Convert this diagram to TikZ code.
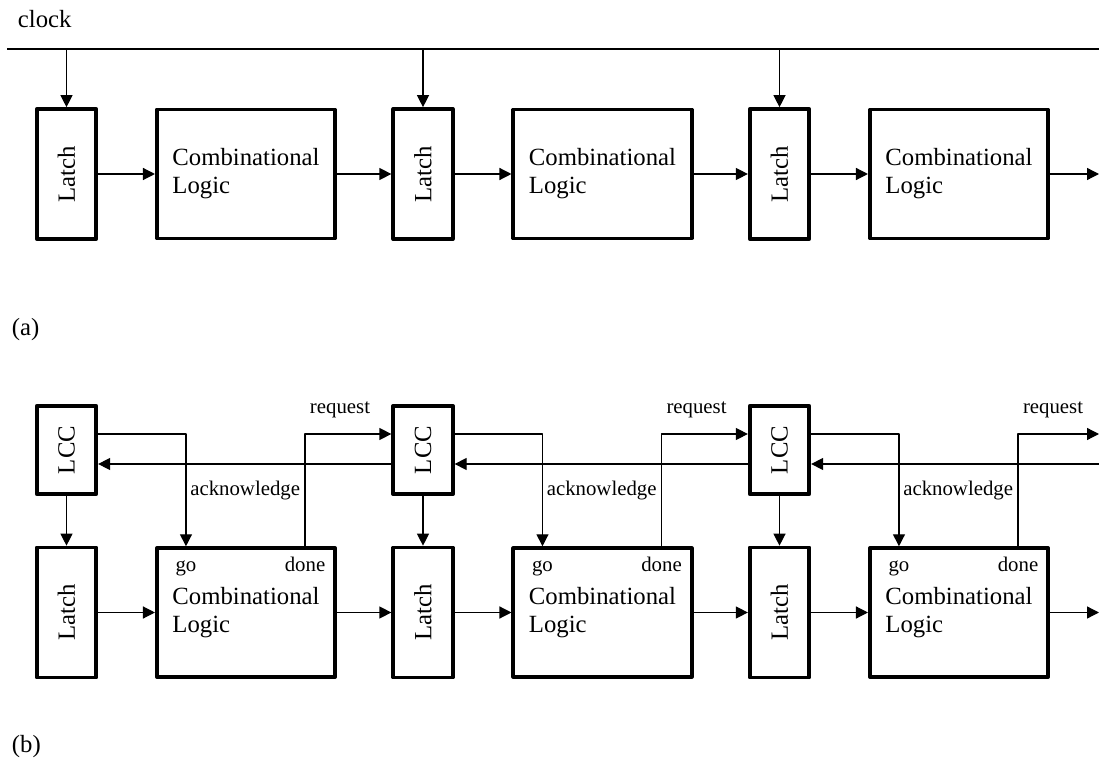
\documentclass[tikz,border=0pt]{standalone}
\usepackage{fontspec}
\setmainfont{Liberation Serif}
\usetikzlibrary{arrows.meta}
\newcommand\bigfont{\fontsize{17.6}{20}\selectfont}
\newcommand\smallfont{\fontsize{14.8}{17}\selectfont}
\tikzset{
  blk/.style={draw, line width=2.6pt, inner sep=0pt},
  latchbox/.style={blk, minimum width=1.49cm, minimum height=3.25cm},
  lccbox/.style={blk, minimum width=1.49cm, minimum height=2.21cm},
  logicbox/.style={blk, minimum width=4.46cm, minimum height=3.22cm, align=left},
  wire/.style={line width=0.9pt},
  sig/.style={wire, -{Triangle[length=0.3cm,width=0.3cm]}},
  small/.style={font=\smallfont},
}
\begin{document}
\begin{tikzpicture}[font=\bigfont, line join=round]
\useasboundingbox (0,0) rectangle (27.475,18.925);
% (a) clocked pipeline
\coordinate (clkL) at (0.175,17.7);
\coordinate (clkR) at (27.475,17.7);
\coordinate (latA3) at (27.475,14.575);
\node[anchor=base west] (clk) at (0.325,18.225) {clock};
\draw[wire] (clkL) -- (clkR);
\foreach \k in {0,1,2} {
  \node[latchbox] (latA\k) at (1.6625+\k*8.9125,14.575) {\rotatebox{90}{Latch}};
  \node[logicbox] (logA\k) at (6.15+\k*8.9125,14.575) {Combinational\\Logic};
  \draw[sig] (latA\k.north |- clkL) -- (latA\k.north);
  \draw[sig] (latA\k) -- (logA\k);
}
\foreach \i/\j in {0/1,1/2,2/3}
  \draw[sig] (logA\i) -- (latA\j);
\node[anchor=west] (capA) at (0.175,10.675) {(a)};
% (b) self-timed pipeline
\coordinate (reqY) at (0,8.075);
\coordinate (ackY) at (0,7.325);
\coordinate (lcc3) at (27.475,7.675);
\coordinate (latB3) at (27.475,3.6125);
\foreach \k in {0,1,2} {
  \node[lccbox] (lcc\k) at (1.6625+\k*8.9125,7.675) {\rotatebox{90}{LCC}};
  \node[latchbox] (latB\k) at (1.6625+\k*8.9125,3.6125) {\rotatebox{90}{Latch}};
  \node[logicbox] (logB\k) at (6.15+\k*8.9125,3.6125) {Combinational\\Logic};
  \coordinate (go\k) at ([xshift=0.775cm]logB\k.north west);
  \coordinate (done\k) at ([xshift=-0.8cm]logB\k.north east);
  \draw[sig] (lcc\k) -- (latB\k);
  \draw[sig] (latB\k) -- (logB\k);
  \draw[sig] (lcc\k.east |- reqY) -| (go\k);
  \node[small, anchor=base] (goT\k) at ([yshift=-0.625cm]go\k) {go};
  \node[small, anchor=base] (doneT\k) at ([yshift=-0.625cm]done\k) {done};
}
\foreach \i/\j in {0/1,1/2,2/3} {
  \draw[sig] (logB\i) -- (latB\j);
  \draw[sig] (done\i) |- (lcc\j.west |- reqY);
  \draw[sig] (lcc\j.west |- ackY) -- (lcc\i.east |- ackY);
  \path (done\i |- reqY) ++(0,0.525) node[small, anchor=base west] (req\i) {request};
  \path (done\i |- ackY) ++(0,-0.775) node[small, anchor=base east] (ack\i) {acknowledge};
}
\node[anchor=west] (capB) at (0.175,0.25) {(b)};
\end{tikzpicture}
\end{document}
